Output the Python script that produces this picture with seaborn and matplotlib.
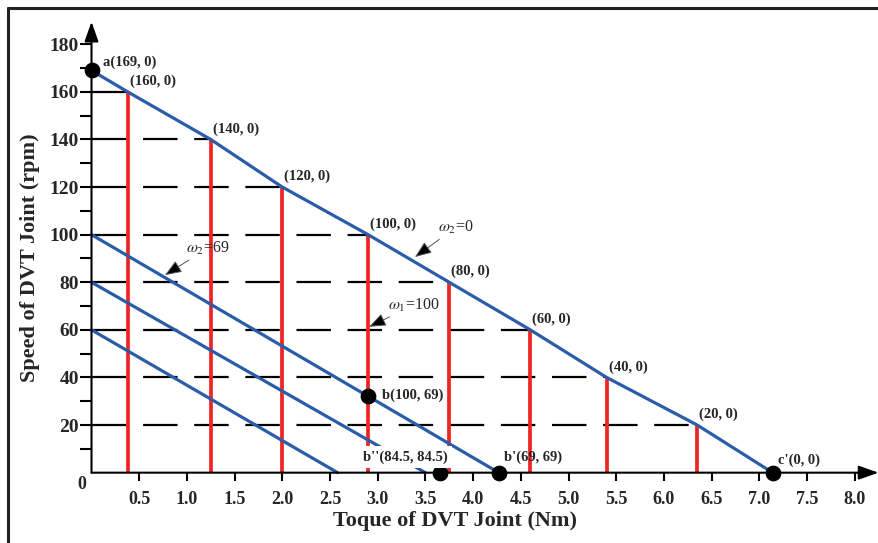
import seaborn as sns
import pandas as pd
from matplotlib import pyplot as plt
from matplotlib.lines import Line2D

#--------------------------Data-----------------------------------------------
#speed levels where the red torque lines stop on the omega2=0 line
speed_levels = [160, 140, 120, 100, 80, 60, 40, 20]
torque_at_level = [0.38, 1.25, 2.0, 2.9, 3.75, 4.6, 5.4, 6.35]
level_labels = ['(160, 0)', '(140, 0)', '(120, 0)', '(100, 0)',
                '(80, 0)', '(60, 0)', '(40, 0)', '(20, 0)']

#end points of the omega2=0 line
max_speed = 169
max_torque = 7.14

#the other constant-speed lines (start speed at zero torque, torque at zero speed)
family_start_speed = [100, 80, 60]
family_end_torque = [4.27, 3.5, 2.58]

#marked points
point_torque = [0, 2.9, 3.65, 4.27, 7.14]
point_speed = [169, 32.4, 0, 0, 0]
point_labels = ['a(169, 0)', 'b(100, 69)', "b''(84.5, 84.5)", "b'(69, 69)", "c'(0, 0)"]

x_ticks = [0.5, 1.0, 1.5, 2.0, 2.5, 3.0, 3.5, 4.0, 4.5, 5.0, 5.5, 6.0, 6.5, 7.0, 7.5, 8.0]
y_ticks = [20, 40, 60, 80, 100, 120, 140, 160, 180]
y_minor = [10, 30, 50, 70, 90, 110, 130, 150, 170]

#--------------------------Style---------------------------------------------
sns.set_theme(style='white')
plt.rcParams['font.family'] = ['Liberation Serif', 'DejaVu Serif']
plt.rcParams['mathtext.fontset'] = 'stix'

blue = '#2b5ca8'
red = '#f02525'

fig = plt.figure(figsize=(8.79, 5.43), dpi=100)
ax = fig.add_axes([0.1041, 0.1295, 0.8954, 0.8328])
ax.set_xlim(0, 8.25)
ax.set_ylim(0, 190)

#dashed speed levels from the axis to the red lines
for lvl, tq in zip(speed_levels, torque_at_level):
    ax.plot([0, tq], [lvl, lvl], color='black', lw=1.6,
            linestyle=(0, (15.5, 7.5)), zorder=1, clip_on=False)

#red torque lines
ax.vlines(torque_at_level, 0, speed_levels, color=red, lw=2.7, zorder=2)

#omega2 = 0 line
main_df = pd.DataFrame({'torque': [0] + torque_at_level + [max_torque],
                        'speed': [max_speed] + speed_levels + [0]})
sns.lineplot(data=main_df, x='torque', y='speed', sort=False, color=blue,
             lw=2.3, ax=ax, zorder=3, clip_on=False)

#family lines
for s0, t1 in zip(family_start_speed, family_end_torque):
    sns.lineplot(x=[0, t1], y=[s0, 0], color=blue, lw=2.3, ax=ax,
                 zorder=3, clip_on=False)

#points
sns.scatterplot(x=point_torque, y=point_speed, color='black', s=110,
                edgecolor='black', ax=ax, zorder=6, clip_on=False)

#point labels
point_offsets = [(0.12, 3.6, None), (0.15, 0.2, None), (-0.05, 6.6, 'abs'),
                 (0.05, 6.6, 'abs'), (0.06, 5.3, 'abs')]
for tq, sp, lab, (dx, dy, mode) in zip(point_torque, point_speed, point_labels, point_offsets):
    y = dy if mode == 'abs' else sp + dy
    x = 2.85 if lab.startswith("b''") else tq + dx
    bbox = dict(facecolor='white', edgecolor='none', pad=3) if lab.startswith("b''") else None
    ax.text(x, y, lab, fontsize=10.5, fontweight='bold', ha='left', va='center',
            zorder=7, bbox=bbox)

#level labels
for lvl, tq, lab in zip(speed_levels, torque_at_level, level_labels):
    ax.text(tq + 0.02, lvl + 4.5, lab, fontsize=10.5, fontweight='bold',
            ha='left', va='center', zorder=7)

#omega annotations
arrow = dict(arrowstyle='-|>,head_length=0.9,head_width=0.35', ec='#555555',
             fc='black', lw=0.7, shrinkA=0, shrinkB=0)
ax.annotate(r'$\omega_2$=0', xy=(3.39, 90.6), xytext=(3.63, 103), fontsize=11.5,
            ha='left', va='center', arrowprops=arrow, zorder=7)
ax.annotate(r'$\omega_1$=100', xy=(2.91, 61.3), xytext=(3.11, 70.4), fontsize=11.5,
            ha='left', va='center', arrowprops=arrow, zorder=7)
ax.annotate(r'$\omega_2$=69', xy=(0.77, 83), xytext=(0.99, 94.3), fontsize=11.5,
            ha='left', va='center', arrowprops=arrow, zorder=7)

#axes as arrows
for s in ax.spines.values():
    s.set_visible(False)
axis_arrow = dict(arrowstyle='-|>,head_length=1.0,head_width=0.35', color='black',
                  lw=1.5, shrinkA=0, shrinkB=0)
ax.annotate('', xy=(8.25, 0), xytext=(0, 0), arrowprops=axis_arrow,
            annotation_clip=False, zorder=5)
ax.annotate('', xy=(0, 189.5), xytext=(0, 0), arrowprops=axis_arrow,
            annotation_clip=False, zorder=5)

#ticks
ax.set_xlabel('')
ax.set_ylabel('')
ax.set_xticks(x_ticks)
ax.set_xticklabels(['%.1f' % t for t in x_ticks], fontsize=13, fontweight='bold')
ax.set_yticks(y_ticks)
ax.set_yticklabels([str(t) for t in y_ticks], fontsize=14, fontweight='bold')
ax.set_yticks(y_minor, minor=True)
ax.tick_params(axis='x', direction='out', length=5.5, width=1.5, color='black',
               pad=8, bottom=True)
ax.tick_params(axis='y', which='both', direction='out', length=8.5, width=1.5,
               color='black', pad=0.5, left=True)
ax.text(-0.1, -5, '0', fontsize=13, fontweight='bold', ha='center', va='center')

#axis labels
fig.text(0.518, 0.040, 'Toque of DVT Joint (Nm)', fontsize=16, fontweight='bold',
         ha='center', va='center')
fig.text(0.034, 0.525, 'Speed of DVT Joint (rpm)', fontsize=16, fontweight='bold',
         ha='center', va='center', rotation=90)

#outer frame (top and left edges)
fig.add_artist(Line2D([8 / 879, 1], [1 - 7.5 / 543, 1 - 7.5 / 543], color='#222222',
                      lw=2.2, transform=fig.transFigure))
fig.add_artist(Line2D([8 / 879, 8 / 879], [0, 1 - 7.5 / 543], color='#222222',
                      lw=2.2, transform=fig.transFigure))

fig.savefig('out.png', dpi=100)
